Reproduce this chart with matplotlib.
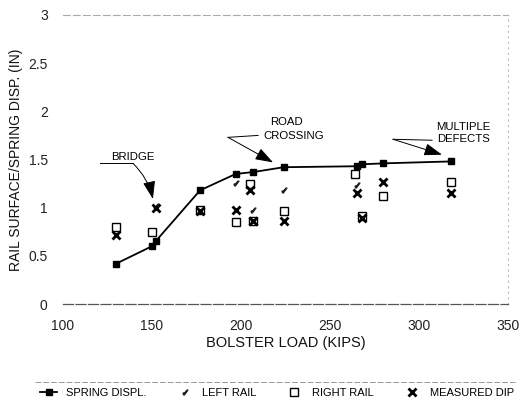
import matplotlib
matplotlib.use("Agg")
import matplotlib.pyplot as plt
from matplotlib.lines import Line2D

plt.rcParams['font.family'] = ['Liberation Sans', 'DejaVu Sans']

# Data
spring_x = [130, 150, 152, 177, 197, 207, 224, 265, 268, 280, 318]
spring_y = [0.42, 0.60, 0.65, 1.18, 1.35, 1.37, 1.42, 1.43, 1.45, 1.46, 1.48]

left_x = [152, 197, 207, 224, 265]
left_y = [1.02, 1.26, 0.98, 1.18, 1.24]

right_x = [130, 150, 177, 197, 205, 207, 224, 264, 268, 280, 318]
right_y = [0.80, 0.75, 0.98, 0.85, 1.25, 0.86, 0.97, 1.35, 0.91, 1.12, 1.27]

dip_x = [130, 152, 177, 197, 205, 207, 224, 265, 268, 280, 318]
dip_y = [0.72, 1.00, 0.97, 0.98, 1.18, 0.86, 0.86, 1.15, 0.89, 1.27, 1.15]

x_ticks = [100, 150, 200, 250, 300, 350]
y_ticks = [0, 0.5, 1, 1.5, 2, 2.5, 3]
y_tick_labels = ['0', '0.5', '1', '1.5', '2', '2.5', '3']

fig = plt.figure(figsize=(5.22, 4.05), dpi=100)
ax = fig.add_axes([63/522, 1-304/405, (508-63)/522, (304-15)/405])

ax.plot(spring_x, spring_y, '-', color='black', lw=1.3, marker='s', ms=4.5,
        mfc='black', mec='black', label='SPRING DISPL.', zorder=3)
ax.plot(left_x, left_y, ls='none', marker='$\\checkmark$', ms=3.5, color='#222222',
        label='LEFT RAIL', zorder=4)
ax.plot(right_x, right_y, ls='none', marker='s', ms=5.5, mfc='white', mec='black',
        mew=1.0, label='RIGHT RAIL', zorder=4)
ax.plot(dip_x, dip_y, ls='none', marker='x', ms=5.5, mew=2.0, color='black',
        label='MEASURED DIP', zorder=5)

ax.set_xlim(100, 350)
ax.set_ylim(0, 3)
ax.set_xticks(x_ticks)
ax.set_yticks(y_ticks)
ax.set_yticklabels(y_tick_labels)
ax.tick_params(axis='both', length=0, labelsize=10, colors='#222222')
ax.tick_params(axis='y', pad=11)
ax.tick_params(axis='x', pad=11)

ax.spines['left'].set_visible(False)
ax.spines['top'].set_linestyle((0, (6, 3)))
ax.spines['top'].set_color('#aaaaaa')
ax.spines['top'].set_linewidth(0.8)
ax.spines['bottom'].set_linestyle((0, (8, 2)))
ax.spines['bottom'].set_color('#555555')
ax.spines['bottom'].set_linewidth(0.9)
ax.spines['right'].set_linestyle((0, (1, 4)))
ax.spines['right'].set_color('#bbbbbb')
ax.spines['right'].set_linewidth(0.8)

ax.set_xlabel('BOLSTER LOAD (KIPS)', fontsize=10.5, labelpad=2, color='#111111')
ax.set_ylabel('RAIL SURFACE/SPRING DISP. (IN)', fontsize=10, labelpad=4, color='#111111')

# Annotations
fs = 8.2
head = '-|>,head_length=1.1,head_width=0.38'
ax.text(139.3, 1.53, 'BRIDGE', fontsize=fs, ha='center', va='center')
ax.plot([120.8, 139.3], [1.46, 1.46], color='black', lw=0.7)
ax.annotate('', xy=(150.5, 1.09), xytext=(139.3, 1.46),
            arrowprops=dict(arrowstyle=head, color='black', lw=0.7,
                            connectionstyle='arc3,rad=-0.15', shrinkA=0, shrinkB=0))

ax.text(225.8, 1.89, 'ROAD', fontsize=fs, ha='center', va='center')
ax.text(229.5, 1.74, 'CROSSING', fontsize=fs, ha='center', va='center')
ax.plot([209.6, 192.7], [1.75, 1.73], color='black', lw=0.7)
ax.annotate('', xy=(218, 1.47), xytext=(192.7, 1.73),
            arrowprops=dict(arrowstyle=head, color='black', lw=0.7, shrinkA=0, shrinkB=0))

ax.text(325, 1.84, 'MULTIPLE', fontsize=fs, ha='center', va='center')
ax.text(325, 1.71, 'DEFECTS', fontsize=fs, ha='center', va='center')
ax.plot([307.3, 285.4], [1.70, 1.71], color='black', lw=0.7)
ax.annotate('', xy=(312.9, 1.55), xytext=(285.4, 1.71),
            arrowprops=dict(arrowstyle=head, color='black', lw=0.7, shrinkA=0, shrinkB=0))

# Legend
fig.add_artist(Line2D([35/522, 515/522], [1-382/405, 1-382/405],
                      color='#999999', lw=0.7, ls=(0, (6, 2))))
handles, labels = ax.get_legend_handles_labels()
fig.legend(handles, labels, loc='center', bbox_to_anchor=(0.53, 1-393/405),
           ncol=4, frameon=False, fontsize=8, handlelength=1.6,
           handletextpad=0.8, columnspacing=2.6)

fig.savefig('out.png', dpi=100)
